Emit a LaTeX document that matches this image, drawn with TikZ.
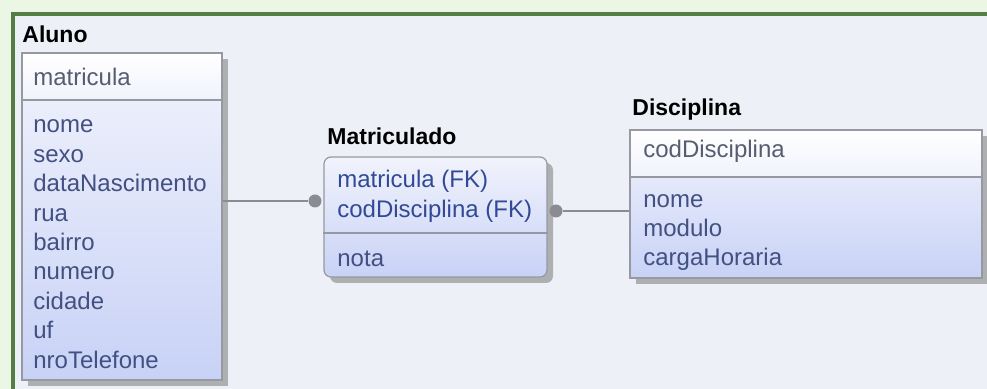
\documentclass[tikz,border=0pt]{standalone}
\usepackage{fontspec}
\setmainfont{Liberation Sans}
\usetikzlibrary{fit,shadows}

\definecolor{canvasbg}{RGB}{237,241,247}
\definecolor{glow}{RGB}{236,246,228}
\definecolor{framegreen}{RGB}{84,126,70}
\definecolor{boxline}{RGB}{150,152,162}
\definecolor{keytxt}{RGB}{88,92,112}
\definecolor{atttxt}{RGB}{66,80,130}
\definecolor{fktxt}{RGB}{50,74,150}
\definecolor{attlow}{RGB}{200,210,246}
\definecolor{atthigh}{RGB}{241,243,252}
\definecolor{linkgray}{RGB}{138,140,146}

\tikzstyle{entity} = [draw=boxline, line width=0.6pt, inner sep=0,
  top color=atthigh, bottom color=attlow,
  drop shadow={shadow xshift=3pt, shadow yshift=-3pt, fill=black!40, opacity=0.75}]
\tikzstyle{keypart} = [draw=boxline, line width=0.6pt, inner sep=0,
  top color=white, bottom color=atthigh]
\tikzstyle{enttitle} = [inner sep=0, anchor=base west,
  font=\bfseries\fontsize{11.5}{14}\selectfont]
\tikzstyle{attr} = [inner sep=0, anchor=base west, text=atttxt,
  font=\fontsize{12}{14}\selectfont]
\tikzstyle{fkdot} = [circle, fill=linkgray, inner sep=0, minimum size=6.5pt]
\tikzstyle{relline} = [draw=linkgray, line width=0.8pt]

\begin{document}
\begin{tikzpicture}[x=0.5pt, y=-0.5pt]
  \useasboundingbox (0,0) rectangle (987,389);
  \clip (0,0) rectangle (987,389);

  % canvas
  \fill[glow] (0,0) rectangle (987,389);
  \draw[framegreen, line width=1.6pt, fill=canvasbg] (13,14) rectangle (1000,400);

  % Aluno
  \node[enttitle] (aluno-title) at (22,43) {Aluno};
  \node[entity, fit={(22,53) (222,380)}] (aluno) {};
  \node[keypart, fit={(22,53) (222,100)}] (aluno-pk) {};
  \node[attr, text=keytxt] (aluno-key) at (33,86) {matricula};
  \foreach \a [count=\i from 0] in {nome,sexo,dataNascimento,rua,bairro,numero,cidade,uf,nroTelefone} {
    \node[attr] (aluno-\i) at (33,{133+29.4*\i}) {\a};
  }

  % Matriculado
  \node[enttitle] (matric-title) at (327,145) {Matriculado};
  \node[entity, rounded corners=3.5pt, fit={(324,157) (547,277)}] (matric) {};
  \draw[boxline, line width=0.6pt] (matric.west |- 0,233) -- (matric.east |- 0,233);
  \node[attr, text=fktxt] (matric-0) at (337,188) {matricula (FK)};
  \node[attr, text=fktxt] (matric-1) at (337,218) {codDisciplina (FK)};
  \node[attr] (matric-2) at (337,267) {nota};

  % Disciplina
  \node[enttitle] (discip-title) at (632,116) {Disciplina};
  \node[entity, fit={(630,130) (982,278)}] (discip) {};
  \node[keypart, fit={(630,130) (982,177)}] (discip-pk) {};
  \node[attr, text=keytxt] (discip-key) at (643,158) {codDisciplina};
  \foreach \a [count=\i from 0] in {nome,modulo,cargaHoraria} {
    \node[attr] (discip-\i) at (643,{208+28.6*\i}) {\a};
  }

  % relationships
  \node[fkdot] (dot-aluno) at (315,201) {};
  \node[fkdot] (dot-discip) at (556,211) {};
  \draw[relline] (aluno.east |- dot-aluno) -- (dot-aluno);
  \draw[relline] (dot-discip) -- (discip.west |- dot-discip);
\end{tikzpicture}
\end{document}
